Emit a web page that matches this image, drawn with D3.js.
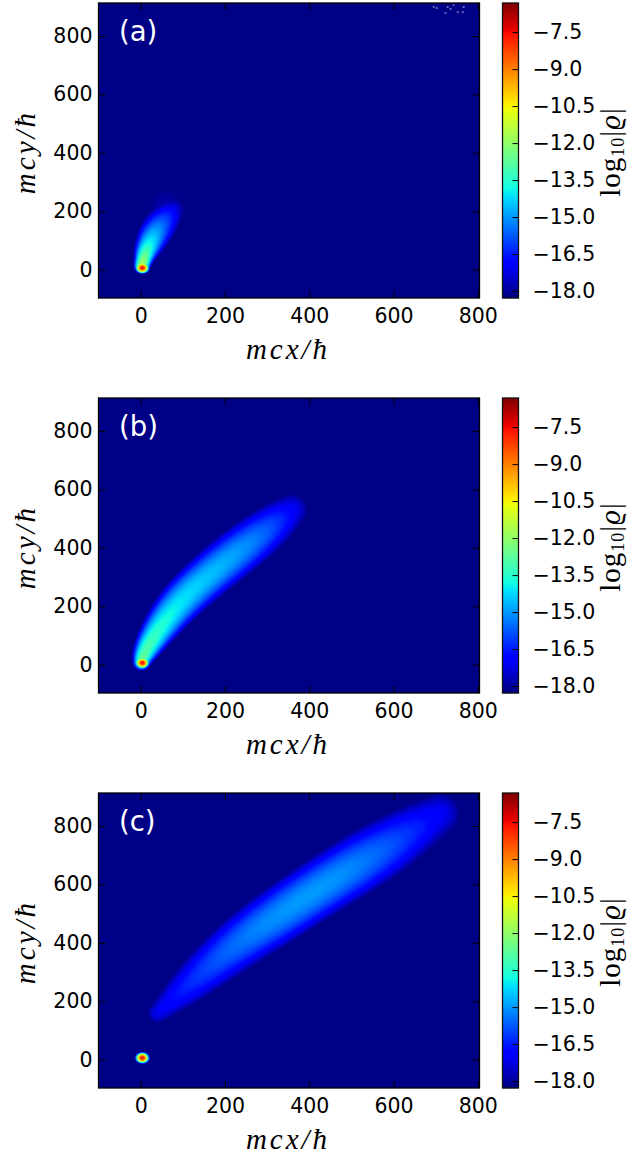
<!DOCTYPE html>
<html>
<head>
<meta charset="utf-8">
<script src="https://cdn.jsdelivr.net/npm/d3@7"></script>
<style>
  html, body { margin: 0; padding: 0; background: #fff; }
  svg { display: block; }
  text { font-family: "DejaVu Sans", sans-serif; fill: #000; }
  .math { font-family: "Liberation Serif", serif; font-size: 29px; letter-spacing: 3px; }
</style>
</head>
<body>
<svg id="chart" width="629" height="1160"></svg>
<script>
const panelLabels = ['(a)', '(b)', '(c)'];
const xTicks = [0, 200, 400, 600, 800];
const yTicks = [0, 200, 400, 600, 800];
const barTicks = [-7.5, -9, -10.5, -12, -13.5, -15, -16.5, -18];

// jet colormap, channel breakpoints
const jetRedAt = [0, 0.35, 0.66, 0.89, 1];
const jetRed = [0, 0, 1, 1, 0.5];
const jetGreenAt = [0, 0.125, 0.375, 0.64, 0.91, 1];
const jetGreen = [0, 0, 1, 1, 0, 0];
const jetBlueAt = [0, 0.11, 0.34, 0.65, 1];
const jetBlue = [0.5, 1, 1, 0, 0];

// plume ridge: momentum position, log10 level on the ridge, cross spread
const ridgeAx = [3, 8, 14, 36, 60, 77];
const ridgeAy = [14, 40, 68, 131, 178, 205];
const ridgeAlevel = [-11.5, -12.3, -13.3, -14.9, -16.2, -17.2];
const ridgeAspread = [8, 10, 14, 23, 26, 25];

const ridgeBx = [2, 10, 77, 156, 235, 310, 358];
const ridgeBy = [9, 49, 195, 300, 391, 474, 530];
const ridgeBlevel = [-12.5, -13, -14, -14.5, -14.9, -15.8, -17];
const ridgeBspread = [9, 15, 26, 30, 33, 35, 34];

const ridgeCx = [41, 116, 219, 322, 448, 580, 708];
const ridgeCy = [160, 258, 387, 489, 610, 725, 842];
const ridgeClevel = [-17.1, -16.3, -15.5, -15, -14.9, -15.6, -17];
const ridgeCspread = [23, 36, 39, 40, 40, 47, 44];

// faint halo round the plume in (a)
const haloAx = [20, 60];
const haloAy = [80, 220];
const haloAlevel = [-17.75, -17.85];
const haloAspread = [60, 60];

// sharp core near the origin, same in all panels
const coreX = 4;
const coreY = 6;
const coreLevel = -7.6;
const coreSpreadX = 5.5;
const coreSpreadY = 6.5;

const floorLevel = -18.2;

// noise specks in the top right corner of (a)
const speckX = [693, 700, 726, 740, 733, 721, 750, 764, 762];
const speckY = [903, 899, 903, 909, 896, 882, 885, 903, 885];

const panelRidges = [
    [[ridgeAx, ridgeAy, ridgeAlevel, ridgeAspread], [haloAx, haloAy, haloAlevel, haloAspread]],
    [[ridgeBx, ridgeBy, ridgeBlevel, ridgeBspread]],
    [[ridgeCx, ridgeCy, ridgeClevel, ridgeCspread]],
];

const left = 98.5, right = 479.5, plotHeight = 295;
const panelTops = [3, 398, 793];
const barLeft = 502.5, barRight = 518.5;

const xDomain = [-100, 804];
const yDomain = [-97, 913];
const barDomain = [-18.28, -6.32];

const svg = d3.select('#chart');

const jetR = d3.scaleLinear().domain(jetRedAt).range(jetRed);
const jetG = d3.scaleLinear().domain(jetGreenAt).range(jetGreen);
const jetB = d3.scaleLinear().domain(jetBlueAt).range(jetBlue);
const toUnit = d3.scaleLinear().domain(barDomain).range([0, 1]).clamp(true);
const jetRgb = (v) => {
    const t = toUnit(v);
    return [jetR(t) * 255, jetG(t) * 255, jetB(t) * 255];
};

const x = d3.scaleLinear().domain(xDomain).range([left, right]);

// turn a ridge into short segments in pixel space
function buildSegments(ridge, y) {
    const [rx, ry, level, spread] = ridge;
    const ix = d3.interpolateBasis(rx), iy = d3.interpolateBasis(ry);
    const il = d3.interpolateBasis(level), is = d3.interpolateBasis(spread);
    const pxPerUnit = Math.abs(x(1) - x(0));
    return d3.range(0, 31).map((i) => {
        const t = i / 30;
        return { px: x(ix(t)), py: y(iy(t)), level: il(t), w: is(t) * pxPerUnit };
    });
}

function fieldImage(ridges, y, width, height, top) {
    const canvas = document.createElement('canvas');
    canvas.width = width;
    canvas.height = height;
    const ctx = canvas.getContext('2d');
    const img = ctx.createImageData(width, height);
    const chains = ridges.map((r) => buildSegments(r, y));
    const coreSx = coreSpreadX * Math.abs(x(1) - x(0));
    const coreSy = coreSpreadY * Math.abs(y(1) - y(0));
    const cx = x(coreX), cy = y(coreY);

    let n = 0;
    for (let j = 0; j < height; j++) {
        const py = top + j + 0.5;
        for (let i = 0; i < width; i++) {
            const px = left + i + 0.5;
            let v = floorLevel;
            for (const chain of chains) {
                for (let k = 0; k < chain.length - 1; k++) {
                    const a = chain[k], b = chain[k + 1];
                    const dx = b.px - a.px, dy = b.py - a.py;
                    let t = ((px - a.px) * dx + (py - a.py) * dy) / (dx * dx + dy * dy);
                    t = Math.max(0, Math.min(1, t));
                    const ex = px - (a.px + t * dx), ey = py - (a.py + t * dy);
                    const w = a.w + t * (b.w - a.w);
                    const val = a.level + t * (b.level - a.level) - (ex * ex + ey * ey) / (w * w);
                    if (val > v) v = val;
                }
            }
            const core = coreLevel - (px - cx) * (px - cx) / (coreSx * coreSx) - (py - cy) * (py - cy) / (coreSy * coreSy);
            if (core > v) v = core;
            const c = jetRgb(v);
            img.data[n++] = c[0];
            img.data[n++] = c[1];
            img.data[n++] = c[2];
            img.data[n++] = 255;
        }
    }
    ctx.putImageData(img, 0, 0);
    return canvas.toDataURL();
}

panelTops.forEach((top, idx) => {
    const bottom = top + plotHeight;
    const y = d3.scaleLinear().domain(yDomain).range([bottom, top]);
    const barY = d3.scaleLinear().domain(barDomain).range([bottom, top]);
    const g = svg.append('g');

    g.append('image')
        .attr('x', left).attr('y', top)
        .attr('width', right - left).attr('height', plotHeight)
        .attr('href', fieldImage(panelRidges[idx], y, Math.round(right - left), plotHeight, top));

    if (idx === 0) {
        g.append('g').selectAll('rect')
            .data(speckX)
            .join('rect')
            .attr('x', (d) => x(d))
            .attr('y', (d, i) => y(speckY[i]))
            .attr('width', 2).attr('height', 2)
            .attr('fill', '#c8c8e8').attr('fill-opacity', 0.5);
    }

    // inward ticks on all four sides, matplotlib classic style
    const axes = [
        d3.axisBottom(x).tickValues(xTicks).tickSize(-7).tickPadding(10).tickFormat(d3.format('d')),
        d3.axisTop(x).tickValues(xTicks).tickSize(-7).tickFormat(''),
        d3.axisLeft(y).tickValues(yTicks).tickSize(-7).tickPadding(6).tickFormat(d3.format('d')),
        d3.axisRight(y).tickValues(yTicks).tickSize(-7).tickFormat(''),
    ];
    const offsets = [[0, bottom], [0, top], [left, 0], [right, 0]];
    axes.forEach((axis, k) => {
        const a = g.append('g')
            .attr('transform', `translate(${offsets[k][0]},${offsets[k][1]})`)
            .call(axis);
        a.select('.domain').remove();
        a.selectAll('text').attr('font-size', 20.5).attr('font-family', '"DejaVu Sans"').attr('fill', '#000');
        a.selectAll('line').attr('stroke', '#000').attr('stroke-width', 1);
    });

    g.append('rect')
        .attr('x', left).attr('y', top)
        .attr('width', right - left).attr('height', plotHeight)
        .attr('fill', 'none').attr('stroke', '#000').attr('stroke-width', 1.3);

    g.append('text')
        .attr('x', 119).attr('y', top + 38)
        .attr('font-size', 27.5)
        .style('fill', '#fff')
        .text(panelLabels[idx]);

    g.append('text')
        .attr('class', 'math')
        .attr('x', 288).attr('y', bottom + 61)
        .attr('text-anchor', 'middle')
        .attr('font-style', 'italic')
        .text('mcx/ħ');

    g.append('text')
        .attr('class', 'math')
        .attr('transform', `translate(35,${top + 149}) rotate(-90)`)
        .attr('text-anchor', 'middle')
        .attr('font-style', 'italic')
        .text('mcy/ħ');

    // colorbar
    g.append('g').selectAll('rect')
        .data(d3.range(0, plotHeight))
        .join('rect')
        .attr('x', barLeft)
        .attr('y', (d) => top + d)
        .attr('width', barRight - barLeft)
        .attr('height', 1.2)
        .attr('fill', (d) => {
            const c = jetRgb(barY.invert(top + d + 0.5));
            return d3.rgb(c[0], c[1], c[2]).formatRgb();
        });

    const barAxis = g.append('g')
        .attr('transform', `translate(${barRight},0)`)
        .call(d3.axisRight(barY).tickValues(barTicks).tickSize(-6).tickPadding(14).tickFormat(d3.format('.1f')));
    barAxis.select('.domain').remove();
    barAxis.selectAll('text').attr('font-size', 20.5).attr('font-family', '"DejaVu Sans"').attr('fill', '#000');
    barAxis.selectAll('line').attr('stroke', '#000').attr('stroke-width', 1);

    g.append('rect')
        .attr('x', barLeft).attr('y', top)
        .attr('width', barRight - barLeft).attr('height', plotHeight)
        .attr('fill', 'none').attr('stroke', '#111').attr('stroke-width', 1.3);

    const barLab = g.append('text')
        .attr('class', 'math')
        .attr('transform', `translate(620,${top + 149}) rotate(-90)`)
        .attr('text-anchor', 'middle')
        .style('letter-spacing', '1px');
    barLab.append('tspan').text('log');
    barLab.append('tspan').attr('dy', 4).attr('font-size', 18).text('10');
    barLab.append('tspan').attr('dy', -4).text('|');
    barLab.append('tspan').attr('font-style', 'italic').text('ϱ');
    barLab.append('tspan').text('|');
});
</script>
</body>
</html>
